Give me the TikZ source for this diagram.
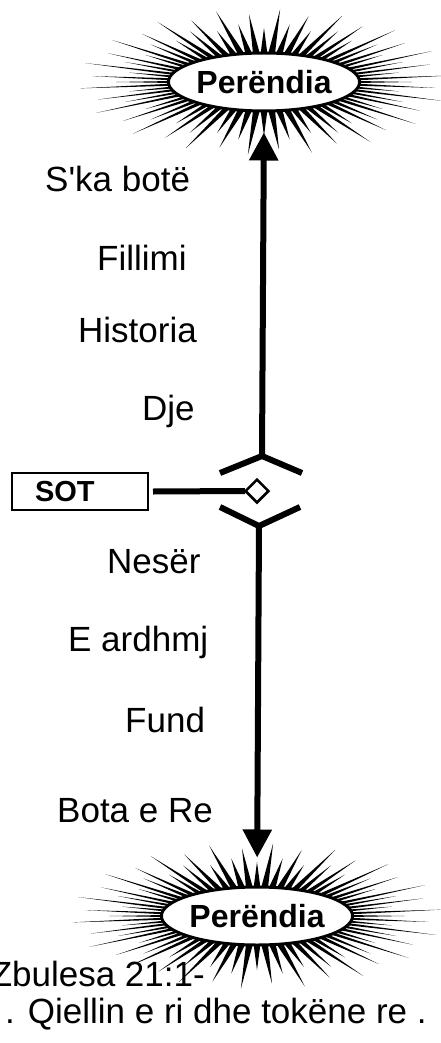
\documentclass[tikz,border=0pt]{standalone}
\usepackage{fontspec}
\setmainfont{Liberation Sans}
\usetikzlibrary{arrows.meta,shapes.geometric}

\newcommand{\sunburst}{%
  \foreach \a [count=\i] in {0,5,...,355}{%
    \pgfmathsetmacro{\f}{{1,0.8,0.93,0.74}[mod(\i,4)]}%
    \fill ({86*cos(\a-2.3)},{28*sin(\a-2.3)}) -- ({185*\f*cos(\a)},{73*\f*sin(\a)})
      -- ({86*cos(\a+2.3)},{28*sin(\a+2.3)}) -- cycle;
  }}

\begin{document}
\begin{tikzpicture}[x=1pt,y=-1pt,
    god/.style={ellipse,draw,fill=white,line width=3pt,minimum width=175pt,
      minimum height=58pt,inner sep=0pt,font=\fontsize{32}{38}\selectfont\bfseries},
    lbl/.style={anchor=base west,inner sep=0pt,font=\fontsize{35}{42}\selectfont},
    axis/.style={line width=6pt,-{Triangle[length=28pt,width=28pt]}},
    fork/.style={line width=6pt}]
  \useasboundingbox (0,0) rectangle (440,1043);
  \coordinate (topc) at (264,82);
  \coordinate (botc) at (257,916);
  \begin{scope}[shift={(topc)}] \sunburst \end{scope}
  \begin{scope}[shift={(botc)}] \sunburst \end{scope}
  \node[god] (topgod) at (topc) {Perëndia};
  \node[god] (botgod) at (botc) {Perëndia};

  \coordinate (upL) at (220,473);
  \coordinate (upR) at (302,473);
  \coordinate (upjoin) at (262,456);
  \coordinate (dnL) at (220,507);
  \coordinate (dnR) at (300,507);
  \coordinate (dnjoin) at (259,526);
  \draw[fork] (upL) -- (upjoin) -- (upR);
  \draw[fork] (dnL) -- (dnjoin) -- (dnR);
  \draw[axis,shorten >=20pt] (upjoin) -- (topgod.south);
  \draw[axis,shorten >=28pt] (dnjoin) -- (botgod.north);

  \node[draw,line width=2pt,minimum width=136pt,minimum height=37pt,inner xsep=23pt,
    text width=90pt,align=left,font=\fontsize{29}{34}\selectfont\bfseries] (sot) at (80,491.5) {SOT};
  \draw[fork] ([xshift=4pt]sot.east) -- (245,491);
  \node[diamond,draw,fill=white,line width=2.5pt,minimum size=24pt,inner sep=0pt] (now) at (257,491) {};

  \node[lbl] (skabote) at (45,192) {S\textquotesingle ka botë};
  \node[lbl] (fillimi) at (97,270) {Fillimi};
  \node[lbl] (historia) at (78,342) {Historia};
  \node[lbl] (dje) at (142,420) {Dje};
  \node[lbl] (neser) at (107,573) {Nesër};
  \node[lbl] (ardhmj) at (68,651) {E ardhmj};
  \node[lbl] (fund) at (125,732) {Fund};
  \node[lbl] (botare) at (57,822) {Bota e Re};
  \node[lbl,anchor=base east] (zbulesa) at (205,986) {Zbulesa 21:1-};
  \node[lbl] (qiellin) at (5,1023) {. Qiellin e ri dhe tokëne re .};
\end{tikzpicture}
\end{document}
